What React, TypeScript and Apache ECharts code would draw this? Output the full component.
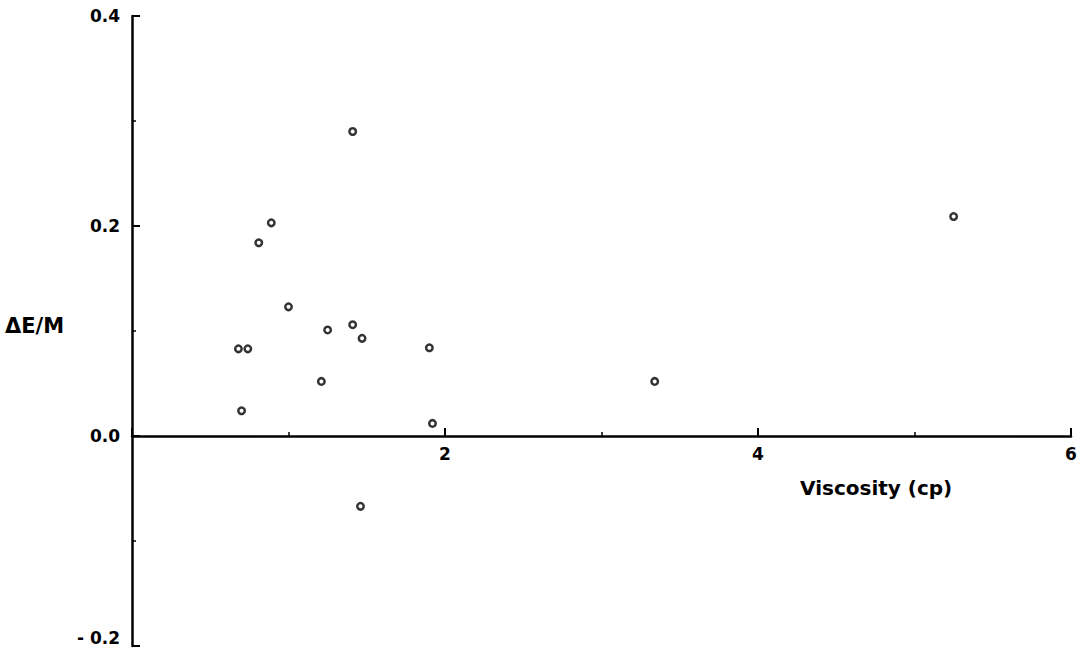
import React, { useEffect, useRef } from "react";
import * as echarts from "echarts";

const viscosity = [1.41, 0.89, 0.81, 1.0, 1.25, 1.41, 1.47, 0.68, 0.74, 1.21, 0.7, 1.9, 1.92, 1.46, 3.34, 5.25];
const deltaEM = [0.29, 0.203, 0.184, 0.123, 0.101, 0.106, 0.093, 0.083, 0.083, 0.052, 0.024, 0.084, 0.012, -0.067, 0.052, 0.209];
const xTicks = [2, 4, 6];
const yTickLabels = ["- 0.2", "0.0", "0.2", "0.4"];

const FONT = "DejaVu Sans";

export default function App() {
  const ref = useRef<HTMLDivElement>(null);
  useEffect(() => {
    if (!ref.current) return;
    const chart = echarts.init(ref.current, null, { renderer: "svg" });
    const points = viscosity.map((v, i) => [v, deltaEM[i]]);
    chart.setOption({
      animation: false,
      backgroundColor: "#ffffff",
      grid: { left: 132, top: 16, width: 939, height: 630, outerBoundsMode: "none", containLabel: false },
      xAxis: {
        type: "value",
        min: 0,
        max: 6,
        interval: 2,
        axisLine: { onZero: true, lineStyle: { color: "#000", width: 2.5 } },
        axisTick: { inside: true, length: 8, lineStyle: { color: "#000", width: 2 } },
        minorTick: { show: true, splitNumber: 2, length: 4, lineStyle: { color: "#000", width: 1.5 } },
        splitLine: { show: false },
        axisLabel: {
          margin: -201,
          color: "#000",
          fontFamily: FONT,
          fontWeight: "bold",
          fontSize: 17,
          formatter: (v: number) => (xTicks.includes(Math.round(v)) ? String(Math.round(v)) : ""),
        },
      },
      yAxis: {
        type: "value",
        min: -0.2,
        max: 0.4,
        interval: 0.2,
        axisLine: { show: true, lineStyle: { color: "#000", width: 2.5 } },
        axisTick: { show: true, inside: true, length: 8, lineStyle: { color: "#000", width: 2 } },
        minorTick: { show: true, splitNumber: 2, length: 4, lineStyle: { color: "#000", width: 1.5 } },
        splitLine: { show: false },
        axisLabel: {
          margin: 12,
          color: "#000",
          fontFamily: FONT,
          fontWeight: "bold",
          fontSize: 17,
          formatter: (v: number) => {
            const idx = Math.round((v + 0.2) / 0.2);
            const t = yTickLabels[idx] ?? "";
            return idx === 0 ? `{lo|${t}}` : t;
          },
          rich: {
            lo: {
              fontFamily: FONT,
              fontWeight: "bold",
              fontSize: 17,
              color: "#000",
              padding: [0, 0, 16, 0],
            },
          },
        },
      },
      graphic: [
        {
          type: "text",
          left: 5,
          top: 315,
          style: { text: "ΔE/M", fill: "#000", font: `bold 21px "${FONT}"` },
        },
        {
          type: "text",
          left: 800,
          top: 478,
          style: { text: "Viscosity (cp)", fill: "#000", font: `bold 20px "${FONT}"` },
        },
      ],
      series: [
        {
          type: "scatter",
          data: points,
          symbol: "circle",
          symbolSize: 6.5,
          itemStyle: { color: "#fff", borderColor: "#000", borderWidth: 2.5 },
        },
      ],
    });
    return () => chart.dispose();
  }, []);
  return (
    <div
      ref={ref}
      style={{ position: "fixed", left: 0, top: 0, width: 1088, height: 654 }}
    />
  );
}
